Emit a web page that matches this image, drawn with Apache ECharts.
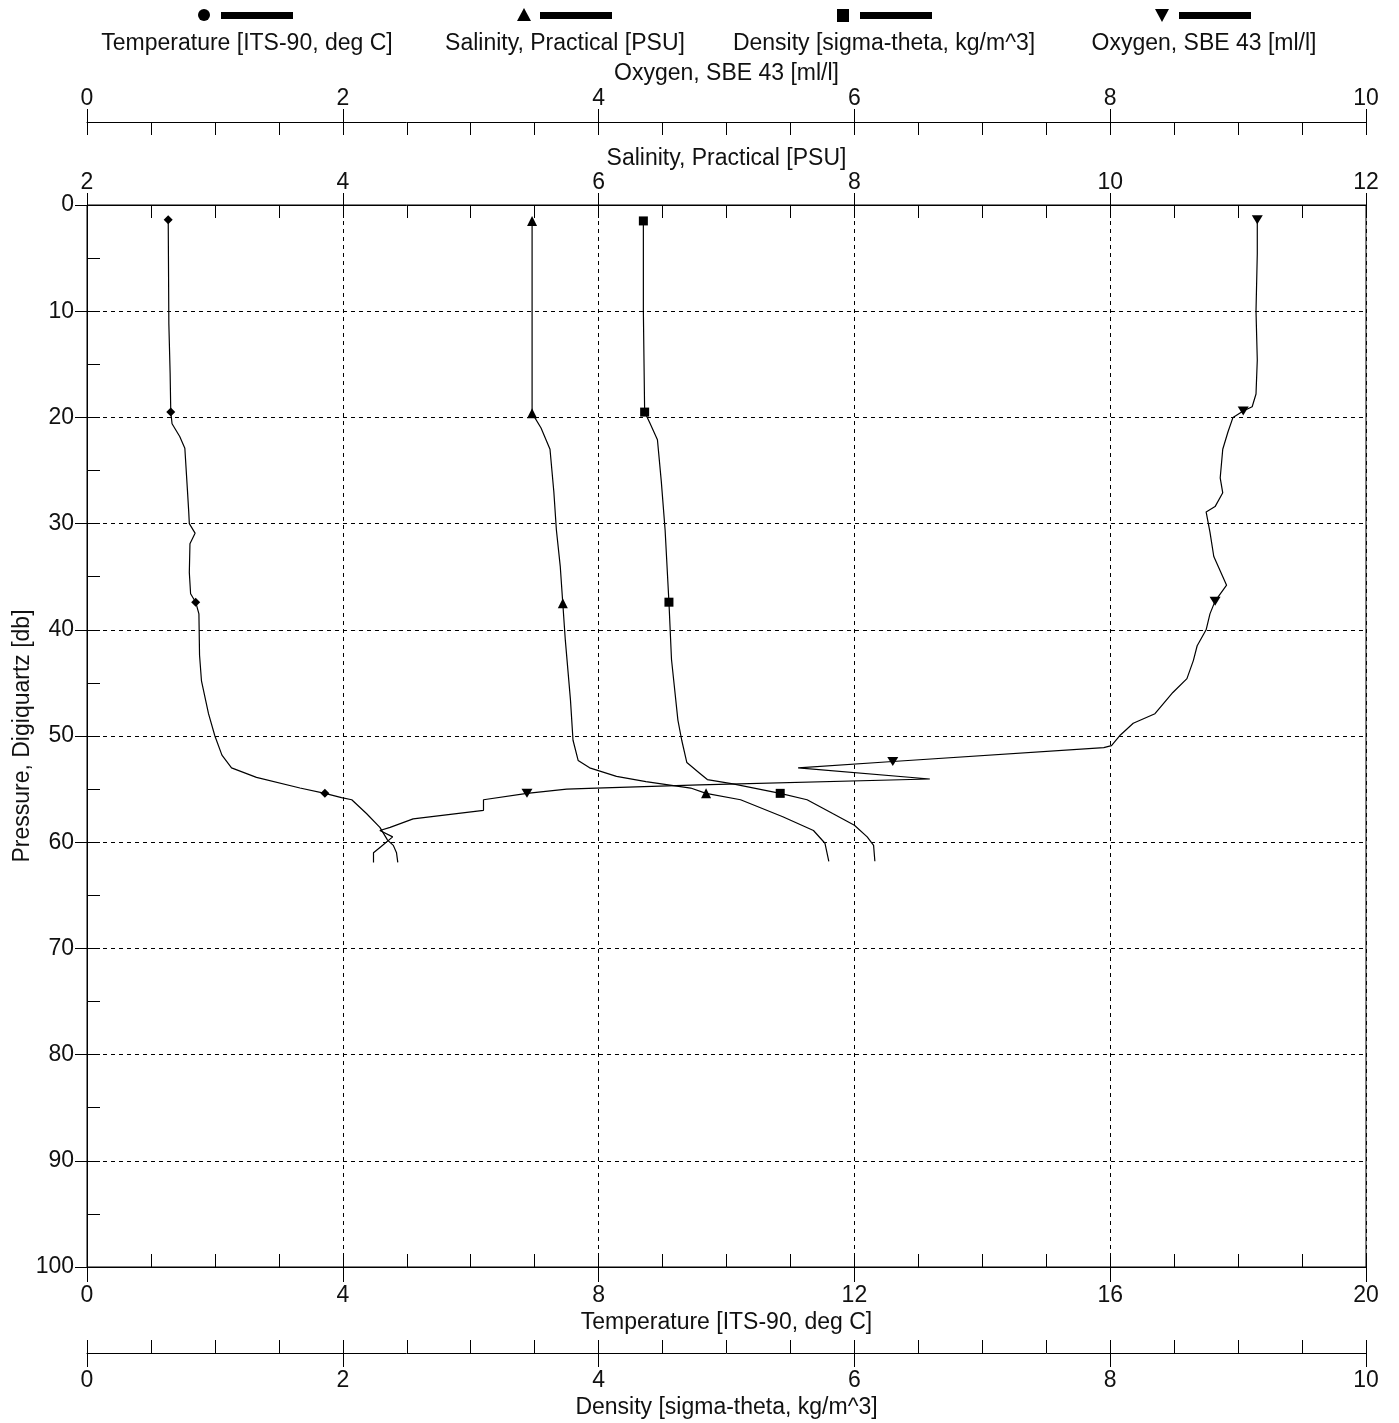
<!DOCTYPE html>
<html>
<head>
<meta charset="utf-8">
<script src="https://cdn.jsdelivr.net/npm/echarts@6/dist/echarts.min.js"></script>
<style>
html,body{margin:0;padding:0;background:#fff;}
#chart{width:1399px;height:1423px;}
</style>
</head>
<body>
<div id="chart"></div>
<script>
// ---------- data ----------
const tempPressure = [1.4, 11.2, 15.9, 19.5, 20.6, 21.8, 22.9, 26.8, 28.8, 30.0, 30.9, 31.9, 34.6, 36.6, 37.4, 38.5, 42.4, 44.8, 47.9, 50.0, 51.8, 53.0, 53.9, 54.9, 55.4, 55.8, 56.0, 57.3, 58.6, 59.8, 60.3, 61.0, 61.9];
const tempValues   = [1.27, 1.28, 1.30, 1.31, 1.33, 1.45, 1.53, 1.57, 1.59, 1.60, 1.69, 1.61, 1.60, 1.62, 1.70, 1.75, 1.76, 1.79, 1.90, 2.00, 2.11, 2.26, 2.65, 3.33, 3.72, 3.98, 4.14, 4.37, 4.58, 4.70, 4.79, 4.84, 4.86];
const tempMarkers  = [1.4, 19.5, 37.4, 55.4];

const salPressure = [1.5, 10, 19.6, 21.0, 23.0, 27.0, 30.6, 34.0, 37.5, 41.0, 46.6, 50.4, 52.3, 53.0, 53.8, 54.3, 54.9, 55.4, 56.0, 57.6, 58.9, 60.1, 61.8];
const salValues   = [5.48, 5.48, 5.48, 5.55, 5.62, 5.65, 5.67, 5.70, 5.72, 5.74, 5.78, 5.80, 5.84, 5.93, 6.14, 6.37, 6.72, 6.84, 7.11, 7.44, 7.68, 7.77, 7.80];
const salMarkers  = [1.5, 19.6, 37.5, 55.4];

const denPressure = [1.5, 10, 19.5, 20.5, 22.1, 26.0, 30.6, 37.4, 42.8, 48.5, 50.4, 52.5, 53.5, 54.1, 54.5, 55.4, 56.0, 57.3, 58.4, 59.5, 60.3, 61.8];
const denValues   = [4.35, 4.35, 4.36, 4.40, 4.46, 4.49, 4.52, 4.55, 4.57, 4.62, 4.65, 4.69, 4.79, 4.85, 5.05, 5.42, 5.63, 5.83, 6.00, 6.10, 6.15, 6.16];
const denMarkers  = [1.5, 19.5, 37.4, 55.4];

const oxyPressure = [1.4, 4.6, 10, 14.6, 17.8, 19.0, 19.4, 20.0, 21.4, 23.0, 25.7, 27.1, 28.4, 28.9, 30.8, 33.1, 35.8, 37.3, 38.5, 40.0, 41.5, 42.9, 44.6, 45.9, 47.9, 48.8, 49.9, 50.9, 51.1, 52.4, 53.0, 54.05, 54.6, 54.9, 55.0, 55.4, 56.0, 57.0, 57.8, 58.6, 58.9, 59.5, 60.4, 61.0, 61.9];
const oxyValues   = [9.15, 9.15, 9.14, 9.15, 9.14, 9.11, 9.04, 8.96, 8.92, 8.88, 8.86, 8.88, 8.82, 8.75, 8.78, 8.81, 8.91, 8.82, 8.78, 8.75, 8.68, 8.65, 8.60, 8.49, 8.35, 8.18, 8.08, 8.01, 7.95, 6.30, 5.56, 6.59, 4.79, 3.98, 3.75, 3.44, 3.10, 3.10, 2.55, 2.37, 2.29, 2.39, 2.30, 2.24, 2.24];
const oxyMarkers  = [1.4, 19.4, 37.3, 52.4, 55.4];

// tick labels of each axis
const pressureTicks    = [0, 10, 20, 30, 40, 50, 60, 70, 80, 90, 100];
const temperatureTicks = [0, 4, 8, 12, 16, 20];
const densityTicks     = [0, 2, 4, 6, 8, 10];
const salinityTicks    = [2, 4, 6, 8, 10, 12];
const oxygenTicks      = [0, 2, 4, 6, 8, 10];

const names = {
  temp: 'Temperature [ITS-90, deg C]',
  sal: 'Salinity, Practical [PSU]',
  den: 'Density [sigma-theta, kg/m^3]',
  oxy: 'Oxygen, SBE 43 [ml/l]',
  pres: 'Pressure, Digiquartz [db]'
};

// ---------- chart ----------
const FONT = '"Liberation Sans", Arial, sans-serif';
const FS = 23;
const INK = '#000';
const TXT = '#111';

function range(t) { return { min: t[0], max: t[t.length - 1], interval: t[1] - t[0] }; }

function mainX(ticks, pos, offset, name, nameGap, labelMargin, grid) {
  const r = range(ticks);
  return Object.assign({
    type: 'value', position: pos, offset: offset,
    name: name, nameLocation: 'middle', nameGap: nameGap, nameMoveOverlap: false,
    nameTextStyle: { fontFamily: FONT, fontSize: FS, color: TXT },
    axisLine: { show: true, onZero: false, lineStyle: { color: INK, width: 1 } },
    axisTick: { show: true, inside: true, length: 13, lineStyle: { color: INK, width: 1 } },
    minorTick: { show: true, splitNumber: 4, length: 13, lineStyle: { color: INK, width: 1 } },
    axisLabel: { show: true, margin: labelMargin, fontFamily: FONT, fontSize: FS, color: TXT, showMinLabel: true, showMaxLabel: true },
    splitLine: grid ? { show: true, lineStyle: { color: INK, width: 1, type: [4, 4] } } : { show: false },
    minorSplitLine: { show: false }
  }, r);
}
function dupX(ticks, pos, offset, len) {
  const r = range(ticks);
  return Object.assign({
    type: 'value', position: pos, offset: offset,
    axisLine: { show: false, onZero: false },
    axisTick: { show: true, inside: false, length: len, lineStyle: { color: INK, width: 1 } },
    minorTick: { show: false },
    axisLabel: { show: false },
    splitLine: { show: false }
  }, r);
}

function buildData(pressures, values, markers, sym) {
  return pressures.map((p, i) => ({
    value: [values[i], p],
    symbol: markers.indexOf(p) >= 0 ? sym : 'none'
  }));
}

const pr = range(pressureTicks);

const option = {
  animation: false,
  backgroundColor: '#fff',
  textStyle: { fontFamily: FONT },
  grid: { left: 87, top: 205, width: 1279, height: 1062, show: true, borderColor: INK, borderWidth: 1,
          backgroundColor: 'transparent', containLabel: false, outerBoundsMode: 'none' },
  xAxis: [
    mainX(temperatureTicks, 'bottom', 0, names.temp, 44, 17, true),   // 0
    dupX(temperatureTicks, 'bottom', 0, 15),                           // 1
    mainX(densityTicks, 'bottom', 86, names.den, 43, 16, false),      // 2
    dupX(densityTicks, 'bottom', 86, 14),                              // 3
    mainX(salinityTicks, 'top', 0, names.sal, 35, 11, false),         // 4
    dupX(salinityTicks, 'top', 0, 12),                                 // 5
    mainX(oxygenTicks, 'top', 83, names.oxy, 37, 12, false),          // 6
    dupX(oxygenTicks, 'top', 83, 13)                                   // 7
  ],
  yAxis: [
    Object.assign({
      type: 'value', position: 'left', inverse: true,
      name: names.pres, nameLocation: 'middle', nameGap: 53, nameRotate: 90, nameMoveOverlap: false,
      nameTextStyle: { fontFamily: FONT, fontSize: FS, color: TXT },
      axisLine: { show: true, onZero: false, lineStyle: { color: INK, width: 1 } },
      axisTick: { show: true, inside: true, length: 13, lineStyle: { color: INK, width: 1 } },
      minorTick: { show: true, splitNumber: 2, length: 13, lineStyle: { color: INK, width: 1 } },
      axisLabel: { show: true, margin: 13, fontFamily: FONT, fontSize: FS, color: TXT, showMinLabel: true, showMaxLabel: true },
      splitLine: { show: true, lineStyle: { color: INK, width: 1, type: [4, 4] } }
    }, pr),
    Object.assign({
      type: 'value', position: 'left', inverse: true,
      axisLine: { show: false, onZero: false },
      axisTick: { show: true, inside: false, length: 12, lineStyle: { color: INK, width: 1 } },
      axisLabel: { show: false },
      splitLine: { show: false }
    }, pr)
  ],
  series: [
    { name: names.temp, type: 'line', xAxisIndex: 0, yAxisIndex: 0, showAllSymbol: true, symbolSize: 9,
      itemStyle: { color: INK }, lineStyle: { color: INK, width: 1.2 },
      data: buildData(tempPressure, tempValues, tempMarkers, 'diamond') },
    { name: names.sal, type: 'line', xAxisIndex: 4, yAxisIndex: 0, showAllSymbol: true, symbolSize: [10, 10],
      itemStyle: { color: INK }, lineStyle: { color: INK, width: 1.2 },
      data: buildData(salPressure, salValues, salMarkers, 'triangle') },
    { name: names.den, type: 'line', xAxisIndex: 2, yAxisIndex: 0, showAllSymbol: true, symbolSize: 9,
      itemStyle: { color: INK }, lineStyle: { color: INK, width: 1.2 },
      data: buildData(denPressure, denValues, denMarkers, 'rect') },
    { name: names.oxy, type: 'line', xAxisIndex: 6, yAxisIndex: 0, showAllSymbol: true, symbolSize: [11, 9], symbolRotate: 180,
      itemStyle: { color: INK }, lineStyle: { color: INK, width: 1.2 },
      data: buildData(oxyPressure, oxyValues, oxyMarkers, 'triangle') }
  ],
  graphic: [
    // legend: marker + thick line, label underneath
    { type: 'circle', shape: { cx: 204, cy: 15, r: 6 }, style: { fill: INK } },
    { type: 'rect', shape: { x: 221, y: 12, width: 72, height: 7 }, style: { fill: INK } },
    { type: 'text', style: { text: names.temp, x: 247, y: 44, align: 'center', verticalAlign: 'middle', font: FS + 'px ' + FONT, fill: TXT } },

    { type: 'polygon', shape: { points: [[524, 8], [517, 21], [531, 21]] }, style: { fill: INK } },
    { type: 'rect', shape: { x: 540, y: 12, width: 72, height: 7 }, style: { fill: INK } },
    { type: 'text', style: { text: names.sal, x: 565, y: 44, align: 'center', verticalAlign: 'middle', font: FS + 'px ' + FONT, fill: TXT } },

    { type: 'rect', shape: { x: 837, y: 9, width: 12, height: 13 }, style: { fill: INK } },
    { type: 'rect', shape: { x: 860, y: 12, width: 72, height: 7 }, style: { fill: INK } },
    { type: 'text', style: { text: names.den, x: 884, y: 44, align: 'center', verticalAlign: 'middle', font: FS + 'px ' + FONT, fill: TXT } },

    { type: 'polygon', shape: { points: [[1155, 9], [1169, 9], [1162, 22]] }, style: { fill: INK } },
    { type: 'rect', shape: { x: 1179, y: 12, width: 72, height: 7 }, style: { fill: INK } },
    { type: 'text', style: { text: names.oxy, x: 1204, y: 44, align: 'center', verticalAlign: 'middle', font: FS + 'px ' + FONT, fill: TXT } }
  ]
};

const chart = echarts.init(document.getElementById('chart'), null, { renderer: 'canvas', width: 1399, height: 1423 });
chart.setOption(option);
</script>
</body>
</html>
